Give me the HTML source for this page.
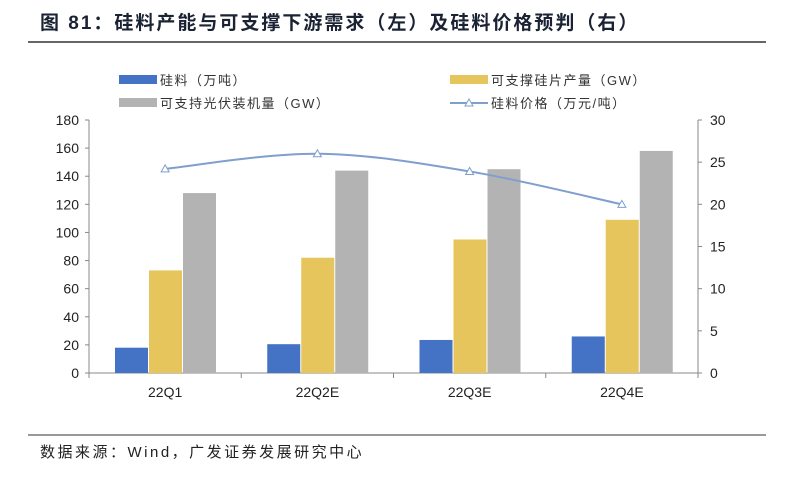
<!DOCTYPE html>
<html><head><meta charset="utf-8"><style>
body{margin:0;background:#fff;width:786px;height:476px;overflow:hidden;font-family:"Liberation Sans","Noto Sans CJK SC",sans-serif}
</style></head><body>
<svg id="c" width="786" height="476" xmlns="http://www.w3.org/2000/svg" font-family="Liberation Sans, Noto Sans CJK SC, sans-serif">
<text x="40" y="29" font-size="19" font-weight="bold" fill="#1a2233" letter-spacing="2">图 81：硅料产能与可支撑下游需求（左）及硅料价格预判（右）</text>
<line x1="28" y1="42" x2="766" y2="42" stroke="#333" stroke-width="1.5"/>
<g font-size="13" fill="#333" letter-spacing="1.5">
<rect x="119" y="75" width="38" height="9" fill="#4472c4"/>
<text x="160" y="85">硅料（万吨）</text>
<rect x="450" y="75" width="38" height="9" fill="#e6c65c"/>
<text x="491" y="85">可支撑硅片产量（GW）</text>
<rect x="119" y="98" width="38" height="9" fill="#b3b3b3"/>
<text x="160" y="108">可支持光伏装机量（GW）</text>
<line x1="450" y1="103" x2="488" y2="103" stroke="#7f9fcf" stroke-width="2"/>
<path d="M469 99 L473 106 L465 106 Z" fill="#fff" stroke="#7f9fcf"/>
<text x="491" y="108">硅料价格（万元/吨）</text>
</g>
<g id="plot"></g>
<line x1="28" y1="435" x2="766" y2="435" stroke="#333" stroke-width="1"/>
<text x="40" y="457" font-size="15" fill="#222" letter-spacing="2.5">数据来源：Wind，广发证券发展研究中心</text>
</svg>
<script>
const categories=["22Q1","22Q2E","22Q3E","22Q4E"];
const silicon=[18,20.5,23.5,26];
const wafer=[73,82,95,109];
const install=[128,144,145,158];
const price=[24.2,26.0,23.9,20.0];
const leftTicks=[0,20,40,60,80,100,120,140,160,180];
const rightTicks=[0,5,10,15,20,25,30];
const NS="http://www.w3.org/2000/svg";
const g=document.getElementById("plot");
const x0=89,x1=698,yb=373,yt=120;
const gw=(x1-x0)/categories.length;
const yL=v=>yb-(v/180)*(yb-yt);
const yR=v=>yb-(v/30)*(yb-yt);
function mk(t,a){const e=document.createElementNS(NS,t);for(const k in a)e.setAttribute(k,a[k]);g.appendChild(e);return e;}
let e;
e=mk("line",{x1:x0,y1:yt,x2:x0,y2:yb,stroke:"#888"});


e=mk("line",{x1:x1,y1:yt,x2:x1,y2:yb,stroke:"#888"});


e=mk("line",{x1:x0,y1:yb,x2:x1,y2:yb,stroke:"#888"});


leftTicks.forEach(v=>{const y=yL(v);
mk("line",{x1:x0-4,y1:y,x2:x0,y2:y,stroke:"#888"});
e=mk("text",{x:x0-10,y:y+5,"text-anchor":"end","font-size":"14",fill:"#222"});e.textContent=v;

});
rightTicks.forEach(v=>{const y=yR(v);
mk("line",{x1:x1,y1:y,x2:x1+4,y2:y,stroke:"#888"});
e=mk("text",{x:x1+12,y:y+5,"font-size":"14",fill:"#222"});e.textContent=v;

});
categories.forEach((c,i)=>{const gx=x0+i*gw;
mk("line",{x1:gx,y1:yb,x2:gx,y2:yb+5,stroke:"#888"});
if(i==categories.length-1)mk("line",{x1:x1,y1:yb,x2:x1,y2:yb+5,stroke:"#888"});
e=mk("text",{x:gx+gw/2,y:yb+24,"text-anchor":"middle","font-size":"14",fill:"#222"});e.textContent=c;


[[silicon,"#4472c4","bar-silicon"],[wafer,"#e6c65c","bar-wafer"],[install,"#b3b3b3","bar-install"]].forEach((s,j)=>{
const v=s[0][i];const bx=gx+26+j*34;
e=mk("rect",{x:bx,y:yL(v),width:33,height:yb-yL(v),fill:s[1]});

});});
const pts=price.map((v,i)=>[x0+i*gw+gw/2,yR(v)]);
let d="M"+pts[0][0]+" "+pts[0][1];
for(let i=0;i<pts.length-1;i++){const p0=pts[i-1]||pts[i],p1=pts[i],p2=pts[i+1],p3=pts[i+2]||p2;
d+=` C${p1[0]+(p2[0]-p0[0])/6} ${p1[1]+(p2[1]-p0[1])/6} ${p2[0]-(p3[0]-p1[0])/6} ${p2[1]-(p3[1]-p1[1])/6} ${p2[0]} ${p2[1]}`;}
e=mk("path",{d:d,fill:"none",stroke:"#7f9fcf","stroke-width":2});


pts.forEach(p=>{e=mk("path",{d:`M${p[0]} ${p[1]-4} L${p[0]+4} ${p[1]+3} L${p[0]-4} ${p[1]+3} Z`,fill:"#fff",stroke:"#7f9fcf"});

});
</script>
</body></html>
